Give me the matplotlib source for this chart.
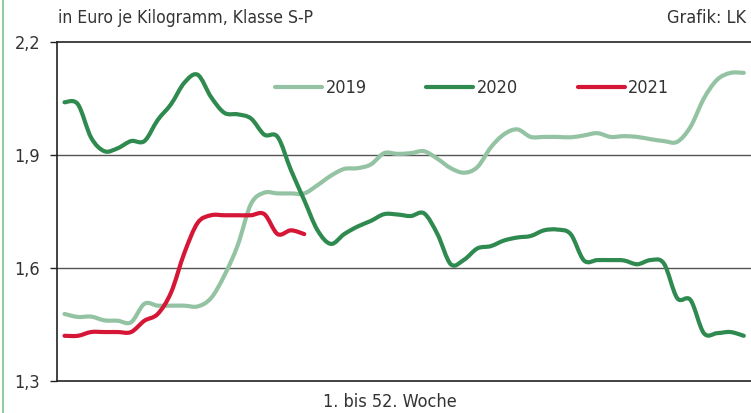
import matplotlib.pyplot as plt
from matplotlib.lines import Line2D
from matplotlib.patches import PathPatch
from matplotlib.path import Path

weeks = list(range(1, 53))

price_2019 = [1.478, 1.470, 1.471, 1.461, 1.460, 1.456, 1.505, 1.500, 1.500, 1.500,
              1.498, 1.520, 1.580, 1.660, 1.770, 1.800, 1.798, 1.798, 1.798, 1.820,
              1.845, 1.863, 1.865, 1.875, 1.905, 1.903, 1.905, 1.910, 1.890, 1.865,
              1.853, 1.868, 1.920, 1.955, 1.968, 1.948, 1.948, 1.948, 1.947, 1.952,
              1.958, 1.948, 1.950, 1.948, 1.942, 1.937, 1.935, 1.975, 2.050, 2.100,
              2.118, 2.118]

price_2020 = [2.040, 2.035, 1.946, 1.910, 1.918, 1.937, 1.937, 1.993, 2.035, 2.092,
              2.113, 2.054, 2.012, 2.008, 1.997, 1.954, 1.948, 1.860, 1.780, 1.700,
              1.664, 1.690, 1.710, 1.725, 1.743, 1.742, 1.738, 1.745, 1.690, 1.610,
              1.622, 1.652, 1.658, 1.673, 1.681, 1.685, 1.700, 1.702, 1.690, 1.620,
              1.621, 1.621, 1.620, 1.610, 1.621, 1.612, 1.520, 1.515, 1.427, 1.427,
              1.430, 1.420]

price_2021 = [1.420, 1.420, 1.430, 1.430, 1.430, 1.430, 1.460, 1.478, 1.535, 1.640,
              1.720, 1.740, 1.740, 1.740, 1.740, 1.743, 1.690, 1.700, 1.690]

yticks = [1.3, 1.6, 1.9, 2.2]
ytick_labels = ["1,3", "1,6", "1,9", "2,2"]

c2019 = "#94c3a3"
c2020 = "#2f8a4f"
c2021 = "#d61636"
txt = "#333333"

plt.rcParams["font.family"] = ["DejaVu Sans"]
plt.rcParams["font.stretch"] = "condensed"


def smooth_path(xs, ys):
    # Catmull-Rom through the weekly points, drawn as cubic beziers
    verts = [(xs[0], ys[0])]
    codes = [Path.MOVETO]
    n = len(xs)
    for i in range(n - 1):
        x0, y0 = xs[max(i - 1, 0)], ys[max(i - 1, 0)]
        x1, y1 = xs[i], ys[i]
        x2, y2 = xs[i + 1], ys[i + 1]
        x3, y3 = xs[min(i + 2, n - 1)], ys[min(i + 2, n - 1)]
        verts += [(x1 + (x2 - x0) / 6, y1 + (y2 - y0) / 6),
                  (x2 - (x3 - x1) / 6, y2 - (y3 - y1) / 6),
                  (x2, y2)]
        codes += [Path.CURVE4] * 3
    return Path(verts, codes)


fig = plt.figure(figsize=(7.51, 4.13), dpi=100)
ax = fig.add_axes([57 / 751, 32 / 413, 694 / 751, 339 / 413])

lw = 3.0
series = [("2019", price_2019, c2019), ("2020", price_2020, c2020), ("2021", price_2021, c2021)]
handles = []
for name, vals, col in series:
    p = PathPatch(smooth_path(weeks[:len(vals)], vals), fill=False, edgecolor=col, lw=lw,
                  capstyle="round", joinstyle="round", zorder=3)
    ax.add_patch(p)
    handles.append(Line2D([], [], color=col, lw=lw, solid_capstyle="round", label=name))

ax.set_xlim(0.437, 52.54)
ax.set_ylim(1.3, 2.2)

for y in yticks:
    ax.axhline(y, color="#555555" if y in (1.6, 1.9) else "#222222",
               lw=1.0 if y in (1.6, 1.9) else 1.2, zorder=0, clip_on=False)

ax.set_yticks(yticks)
ax.set_yticklabels(ytick_labels)
ax.tick_params(axis="y", length=5, width=1, color="#222222", pad=7,
               labelsize=13, labelcolor=txt)
ax.set_xticks([])

for s in ["top", "right", "bottom"]:
    ax.spines[s].set_visible(False)
ax.spines["left"].set_color("#222222")
ax.spines["left"].set_linewidth(1.2)

fig.text(390 / 751, 1 - 402 / 413, "1. bis 52. Woche", fontsize=13, color=txt,
         va="center", ha="center")
fig.text(58 / 751, 1 - 18 / 413, "in Euro je Kilogramm, Klasse S-P", fontsize=12.6,
         color=txt, va="center", ha="left")
fig.text(746 / 751, 1 - 18 / 413, "Grafik: LK", fontsize=13, color=txt,
         va="center", ha="right")

leg = ax.legend(handles=handles, ncol=3, loc="center left",
                bbox_to_anchor=((275 - 57) / 694, (381 - 88) / 339),
                frameon=False, fontsize=13, handlelength=2.6, handletextpad=0.2,
                columnspacing=3.3, borderaxespad=0, borderpad=0)
for t in leg.get_texts():
    t.set_color(txt)

fig.add_artist(Line2D([3 / 751, 3 / 751], [0, 1], color="#7cc48a", lw=1.2))

fig.savefig("out.png", dpi=100)
